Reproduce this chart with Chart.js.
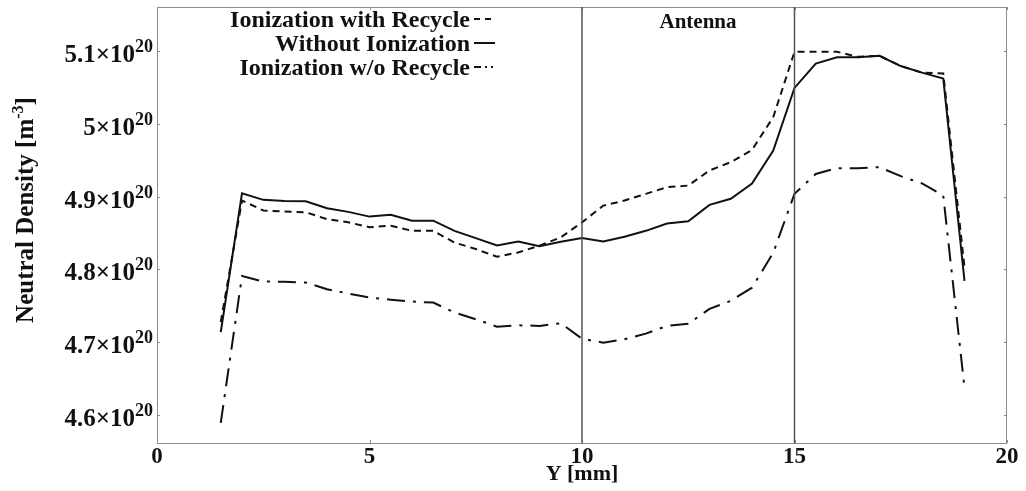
<!DOCTYPE html>
<html>
<head>
<meta charset="utf-8">
<script src="https://cdn.jsdelivr.net/npm/chart.js@4.4.0/dist/chart.umd.min.js"></script>
<style>
  html, body { margin: 0; padding: 0; background: #fff; }
  canvas { display: block; }
</style>
</head>
<body>
<canvas id="density-chart" width="1026" height="491"></canvas>
<script>
// Neutral density profiles along Y, in units of 1e20 m^-3
const positions = [1.5, 2, 2.5, 3, 3.5, 4, 4.5, 5, 5.5, 6, 6.5, 7, 7.5, 8, 8.5, 9, 9.5, 10,
    10.5, 11, 11.5, 12, 12.5, 13, 13.5, 14, 14.5, 15, 15.5, 16, 16.5, 17, 17.5, 18, 18.5, 19];

const withRecycle = [4.728, 4.8945, 4.881, 4.8795, 4.8784, 4.869, 4.8647, 4.858, 4.860, 4.853, 4.853, 4.837,
    4.828, 4.8175, 4.8234, 4.8326, 4.844, 4.8646, 4.8876, 4.8945, 4.9037, 4.9128, 4.9151, 4.9358,
    4.9472, 4.964, 5.009, 5.0985, 5.0985, 5.0985, 5.0916, 5.093, 5.079, 5.070, 5.0688, 4.8028];

const withoutIonization = [4.714, 4.9045, 4.8955, 4.894, 4.8935, 4.884, 4.879, 4.8725, 4.875, 4.867, 4.867, 4.853,
    4.843, 4.833, 4.8385, 4.832, 4.838, 4.843, 4.8385, 4.845, 4.853, 4.863, 4.866, 4.8886,
    4.897, 4.918, 4.963, 5.049, 5.0825, 5.091, 5.091, 5.093, 5.079, 5.070, 5.062, 4.7845];

const withoutRecycle = [4.5896, 4.791, 4.7835, 4.783, 4.782, 4.773, 4.767, 4.7615, 4.7585, 4.756, 4.7546, 4.741,
    4.7318, 4.7216, 4.7235, 4.7226, 4.7263, 4.705, 4.6996, 4.7043, 4.712, 4.7226, 4.7255, 4.746,
    4.757, 4.775, 4.823, 4.9037, 4.931, 4.939, 4.939, 4.9403, 4.928, 4.918, 4.9014, 4.6377];

const xTicks = [0, 5, 10, 15, 20];
const yTicks = [4.6, 4.7, 4.8, 4.9, 5.0, 5.1];
const yTickMantissas = ['4.6', '4.7', '4.8', '4.9', '5', '5.1'];
const antennaEdges = [10, 15];

const seriesNames = ['Ionization with Recycle', 'Without Ionization', 'Ionization w/o Recycle'];
const seriesDashes = [[7, 5], [], [18, 8, 3, 8]];

const SERIF = '"Liberation Serif", "Times New Roman", serif';

function toPoints(values) {
    return values.map((v, i) => ({ x: positions[i], y: v }));
}

const decorations = {
    id: 'decorations',
    afterDraw(chart) {
        const { ctx, chartArea: area, scales: { x, y } } = chart;
        ctx.save();

        // frame
        ctx.strokeStyle = '#8c8c8c';
        ctx.lineWidth = 1;
        ctx.strokeRect(area.left + 0.5, area.top + 0.5, area.right - area.left - 1, area.bottom - area.top);

        // tiny inward tick marks
        ctx.beginPath();
        yTicks.forEach(v => {
            const py = Math.round(y.getPixelForValue(v)) + 0.5;
            ctx.moveTo(area.left, py); ctx.lineTo(area.left + 3, py);
            ctx.moveTo(area.right, py); ctx.lineTo(area.right - 3, py);
        });
        xTicks.forEach(v => {
            const px = Math.round(x.getPixelForValue(v)) + 0.5;
            ctx.moveTo(px, area.bottom); ctx.lineTo(px, area.bottom - 3);
            ctx.moveTo(px, area.top); ctx.lineTo(px, area.top + 3);
        });
        ctx.stroke();

        // antenna edges
        ctx.strokeStyle = '#555';
        ctx.lineWidth = 1.5;
        antennaEdges.forEach(v => {
            const px = x.getPixelForValue(v);
            ctx.beginPath();
            ctx.moveTo(px, area.top);
            ctx.lineTo(px, area.bottom);
            ctx.stroke();
        });

        ctx.fillStyle = '#111';
        ctx.textBaseline = 'alphabetic';

        // y tick labels with exponent
        yTicks.forEach((v, i) => {
            const py = y.getPixelForValue(v);
            const main = yTickMantissas[i] + '\u00d710';
            ctx.font = 'bold 25px ' + SERIF;
            const wMain = ctx.measureText(main).width;
            ctx.font = 'bold 18px ' + SERIF;
            const wSup = ctx.measureText('20').width;
            const x0 = area.left - 4 - wMain - wSup;
            ctx.font = 'bold 25px ' + SERIF;
            ctx.textAlign = 'left';
            ctx.fillText(main, x0, py + 11);
            ctx.font = 'bold 18px ' + SERIF;
            ctx.fillText('20', x0 + wMain, py + 1);
        });

        // x tick labels
        ctx.font = 'bold 23px ' + SERIF;
        ctx.textAlign = 'center';
        xTicks.forEach(v => {
            ctx.fillText(String(v), x.getPixelForValue(v), area.bottom + 20);
        });

        // x axis title
        ctx.font = 'bold 22px ' + SERIF;
        ctx.fillText('Y [mm]', x.getPixelForValue(10), area.bottom + 37);

        // y axis title, rotated, with superscript
        ctx.save();
        ctx.translate(33, 210);
        ctx.rotate(-Math.PI / 2);
        ctx.font = 'bold 25px ' + SERIF;
        const partA = 'Neutral Density [m';
        const wA = ctx.measureText(partA).width;
        ctx.font = 'bold 16px ' + SERIF;
        const wSupY = ctx.measureText('-3').width;
        ctx.font = 'bold 25px ' + SERIF;
        const wC = ctx.measureText(']').width;
        let tx = -(wA + wSupY + wC) / 2;
        ctx.textAlign = 'left';
        ctx.fillText(partA, tx, 0);
        ctx.font = 'bold 16px ' + SERIF;
        ctx.fillText('-3', tx + wA, -10);
        ctx.font = 'bold 25px ' + SERIF;
        ctx.fillText(']', tx + wA + wSupY, 0);
        ctx.restore();

        // Antenna label
        ctx.font = 'bold 21px ' + SERIF;
        ctx.textAlign = 'center';
        ctx.fillText('Antenna', 698, 28);

        // legend: right-aligned names followed by line samples
        ctx.font = 'bold 24px ' + SERIF;
        ctx.textAlign = 'right';
        const rows = [19, 43, 67];
        seriesNames.forEach((name, i) => {
            ctx.fillText(name, 470, rows[i] + 8);
            ctx.save();
            ctx.strokeStyle = '#111';
            ctx.lineWidth = 2;
            ctx.setLineDash(i === 2 ? [7, 4, 2, 4, 2, 4] : i === 0 ? [6, 5] : []);
            ctx.beginPath();
            ctx.moveTo(474, rows[i]);
            ctx.lineTo(495, rows[i]);
            ctx.stroke();
            ctx.restore();
        });

        ctx.restore();
    }
};

const chartElement = document.getElementById('density-chart').getContext('2d');
new Chart(chartElement, {
    type: 'line',
    data: {
        datasets: [withRecycle, withoutIonization, withoutRecycle].map((values, i) => ({
            label: seriesNames[i],
            data: toPoints(values),
            borderColor: '#111',
            borderWidth: 2,
            borderDash: seriesDashes[i],
            pointRadius: 0,
            tension: 0,
            fill: false,
        })),
    },
    options: {
        responsive: false,
        animation: false,
        devicePixelRatio: 1,
        layout: { padding: { left: 0, right: 19, top: 7, bottom: 0 } },
        plugins: { legend: { display: false }, tooltip: { enabled: false } },
        scales: {
            x: {
                type: 'linear',
                min: 0,
                max: 20,
                grid: { display: false },
                border: { display: false },
                ticks: { display: false },
                afterFit: scale => { scale.height = 48; },
            },
            y: {
                min: 4.562,
                max: 5.160,
                grid: { display: false },
                border: { display: false },
                ticks: { display: false },
                afterFit: scale => { scale.width = 157; },
            },
        },
    },
    plugins: [decorations],
});
</script>
</body>
</html>
